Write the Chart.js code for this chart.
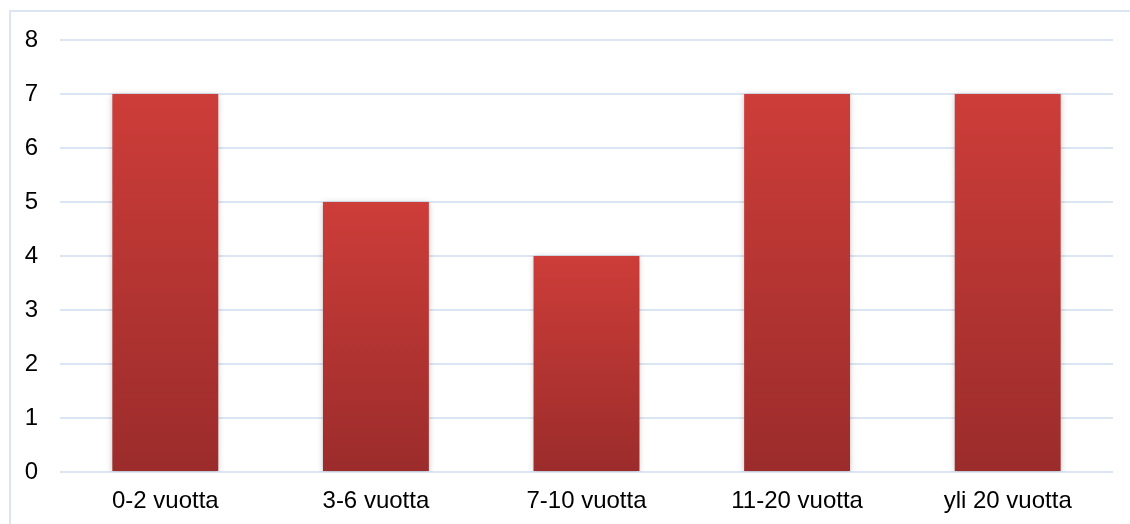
<!DOCTYPE html>
<html>
<head>
<meta charset="utf-8">
<script src="https://cdn.jsdelivr.net/npm/chart.js@4"></script>
<style>
  html, body { margin: 0; padding: 0; background: #ffffff; }
  #wrap { position: relative; width: 1130px; height: 524px; }
  #frame {
    position: absolute; left: 9px; top: 10px; right: 0; bottom: 0;
    border-left: 2px solid #dbe5f3; border-top: 2px solid #dbe5f3;
  }
  canvas { position: absolute; left: 0; top: 0; }
</style>
</head>
<body>
<div id="wrap">
  <div id="frame"></div>
  <canvas id="chart" width="1130" height="524"></canvas>
</div>
<script>
const categories = ['0-2 vuotta', '3-6 vuotta', '7-10 vuotta', '11-20 vuotta', 'yli 20 vuotta'];
const counts = [7, 5, 4, 7, 7];
const yTicks = [0, 1, 2, 3, 4, 5, 6, 7, 8];

// gradient from each bar's own top down to the baseline
function barGradient(context) {
  const chart = context.chart;
  const { ctx, chartArea, scales } = chart;
  if (!chartArea) return '#c0392f';
  const v = context.parsed ? context.parsed.y : counts[context.dataIndex];
  const top = scales.y.getPixelForValue(v);
  const bottom = scales.y.getPixelForValue(0);
  const g = ctx.createLinearGradient(0, top, 0, bottom);
  g.addColorStop(0, '#cd3d39');
  g.addColorStop(1, '#9b2c2b');
  return g;
}

const barShadow = {
  id: 'barShadow',
  beforeDatasetsDraw(chart) {
    const c = chart.ctx;
    c.save();
    c.shadowColor = 'rgba(0,0,0,0.22)';
    c.shadowBlur = 6;
    c.shadowOffsetX = 0;
    c.shadowOffsetY = 1;
  },
  afterDatasetsDraw(chart) {
    chart.ctx.restore();
  },
};

const tickFont = { family: "'Liberation Sans', Arial, sans-serif", size: 24 };

new Chart('chart', {
  type: 'bar',
  data: {
    labels: categories,
    datasets: [{
      data: counts,
      backgroundColor: barGradient,
      borderWidth: 0,
      categoryPercentage: 1,
      barPercentage: 0.503,
    }],
  },
  options: {
    responsive: false,
    animation: false,
    layout: { padding: { top: 40, right: 17, left: 0, bottom: 0 } },
    plugins: { legend: { display: false }, tooltip: { enabled: false } },
    scales: {
      x: {
        grid: { display: false, drawTicks: false },
        border: { display: false },
        ticks: { color: '#000000', padding: 15, font: tickFont },
        afterFit(scale) { scale.height = 52; },
      },
      y: {
        min: 0,
        max: 8,
        afterBuildTicks(scale) { scale.ticks = yTicks.map(v => ({ value: v })); },
        grid: { color: '#dbe5f3', lineWidth: 2, drawTicks: false },
        border: { display: false },
        ticks: { color: '#000000', padding: 22, font: tickFont },
        afterFit(scale) { scale.width = 60; },
      },
    },
  },
  plugins: [barShadow],
});
</script>
</body>
</html>
